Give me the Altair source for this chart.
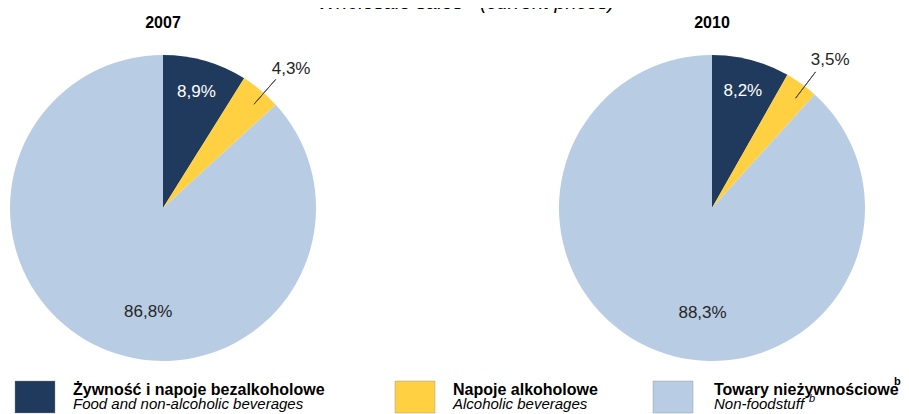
import math
import altair as alt
import pandas as pd

# ---- data ----
years = ["2007", "2010"]
categories = ["food", "alcohol", "nonfood"]
labels_pl = ["Żywność i napoje bezalkoholowe", "Napoje alkoholowe", "Towary nieżywnościowe"]
labels_en = ["Food and non-alcoholic beverages", "Alcoholic beverages", "Non-foodstuff"]
share_2007 = [8.9, 4.3, 86.8]
share_2010 = [8.2, 3.5, 88.3]

# ---- styles / layout ----
colors = ["#1f3a5c", "#ffd142", "#b8cce4"]
FONT = "Liberation Sans"
W, H = 893, 406
CX = [155, 704]
CY = 200
R = 153
LEGEND_SQ_X = [7, 387, 645]
LEGEND_TX_X = [65, 445, 706]

rows = []
for yr, vals in zip(years, [share_2007, share_2010]):
    for i, (c, v) in enumerate(zip(categories, vals)):
        rows.append({"year": yr, "cat": c, "order": i, "value": v,
                     "label": f"{v:.1f}".replace(".", ",") + "%"})
df = pd.DataFrame(rows)

xenc = alt.X("year:N", scale=alt.Scale(type="point", domain=years, range=CX, padding=0), axis=None)
tscale = alt.Scale(domain=[0, 100], range=[0, 2 * math.pi])

base = alt.Chart(df).transform_window(
    end="sum(value)", groupby=["year"], sort=[alt.SortField("order")], frame=[None, 0]
).transform_calculate(
    start="datum.end - datum.value",
    mid="datum.end - datum.value / 2",
)

arcs = base.mark_arc(outerRadius=R).encode(
    x=xenc,
    y=alt.value(CY),
    theta=alt.Theta("start:Q", scale=tscale),
    theta2="end:Q",
    color=alt.Color("cat:N", scale=alt.Scale(domain=categories, range=colors), legend=None),
)

lab_food = base.transform_filter(alt.datum.cat == "food").mark_text(
    radius=121, color="white", fontSize=17, font=FONT
).encode(x=xenc, y=alt.value(CY), theta=alt.Theta("mid:Q", scale=tscale), text="label:N")

lab_big = base.transform_filter(alt.datum.cat == "nonfood").transform_calculate(
    ang="datum.start + 0.45 * datum.value"
).mark_text(radius=105, color="#262626", fontSize=17, font=FONT).encode(
    x=xenc, y=alt.value(CY), theta=alt.Theta("ang:Q", scale=tscale), text="label:N"
)

alc = base.transform_filter(alt.datum.cat == "alcohol").transform_calculate(
    ang="datum.mid + 0.4", ang2="datum.mid + 0.41", tang="datum.mid + 0.8"
)
lab_alc = alc.mark_text(radius=189, color="#262626", fontSize=17, font=FONT).encode(
    x=xenc, y=alt.value(CY), theta=alt.Theta("tang:Q", scale=tscale), text="label:N"
)
leader = alc.mark_arc(innerRadius=138, outerRadius=171, fill="transparent",
                      stroke="#4d4d4d", strokeWidth=1).encode(
    x=xenc, y=alt.value(CY), theta=alt.Theta("ang:Q", scale=tscale), theta2="ang2:Q"
)

year_df = pd.DataFrame({"year": years})
year_titles = alt.Chart(year_df).mark_text(
    fontSize=16, fontWeight="bold", font=FONT, baseline="alphabetic"
).encode(x=xenc, y=alt.value(20), text="year:N")

title_df = pd.DataFrame({"t1": ["Wholesale sales"], "t2": ["(current prices)"], "sup": ["a"]})
title_a = alt.Chart(title_df).mark_text(fontSize=20, fontStyle="italic", font=FONT, align="right",
                                        baseline="alphabetic").encode(
    x=alt.value(455), y=alt.value(1), text="t1:N")
title_sup = alt.Chart(title_df).mark_text(fontSize=13, fontStyle="italic", font=FONT, align="left",
                                          baseline="alphabetic").encode(
    x=alt.value(458), y=alt.value(-7), text="sup:N")
title_b = alt.Chart(title_df).mark_text(fontSize=20, fontStyle="italic", font=FONT, align="left",
                                        baseline="alphabetic").encode(
    x=alt.value(472), y=alt.value(1), text="t2:N")

leg_df = pd.DataFrame({"cat": categories, "pl": labels_pl, "en": labels_en})
legend_layers = []
for i, c in enumerate(categories):
    d = alt.Chart(leg_df).transform_filter(alt.datum.cat == c)
    legend_layers.append(d.mark_rect(fill=colors[i], stroke="#8c8c8c", strokeWidth=0.4).encode(
        x=alt.value(LEGEND_SQ_X[i]), x2=alt.value(LEGEND_SQ_X[i] + 40),
        y=alt.value(373), y2=alt.value(405)))
    legend_layers.append(d.mark_text(fontSize=16, fontWeight="bold", font=FONT, align="left",
                                     baseline="alphabetic", color="black").encode(
        x=alt.value(LEGEND_TX_X[i]), y=alt.value(387), text="pl:N"))
    legend_layers.append(d.mark_text(fontSize=15, fontStyle="italic", font=FONT, align="left",
                                     baseline="alphabetic", color="black").encode(
        x=alt.value(LEGEND_TX_X[i]), y=alt.value(401), text="en:N"))

sup_df = pd.DataFrame({"s": ["b"]})
sup1 = alt.Chart(sup_df).mark_text(fontSize=11, fontWeight="bold", font=FONT, align="left",
                                   baseline="alphabetic").encode(
    x=alt.value(886), y=alt.value(377), text="s:N")
sup2 = alt.Chart(sup_df).mark_text(fontSize=11, fontStyle="italic", font=FONT, align="left",
                                   baseline="alphabetic").encode(
    x=alt.value(801), y=alt.value(394), text="s:N")

chart = alt.layer(
    arcs, leader, lab_food, lab_big, lab_alc, year_titles, title_a, title_sup, title_b,
    *legend_layers, sup1, sup2
).properties(
    width=W, height=H, autosize=alt.AutoSizeParams(type="none"), padding=0
).configure_view(stroke=None)

chart.save("out.html", embed_options={"renderer": "svg", "actions": False})
